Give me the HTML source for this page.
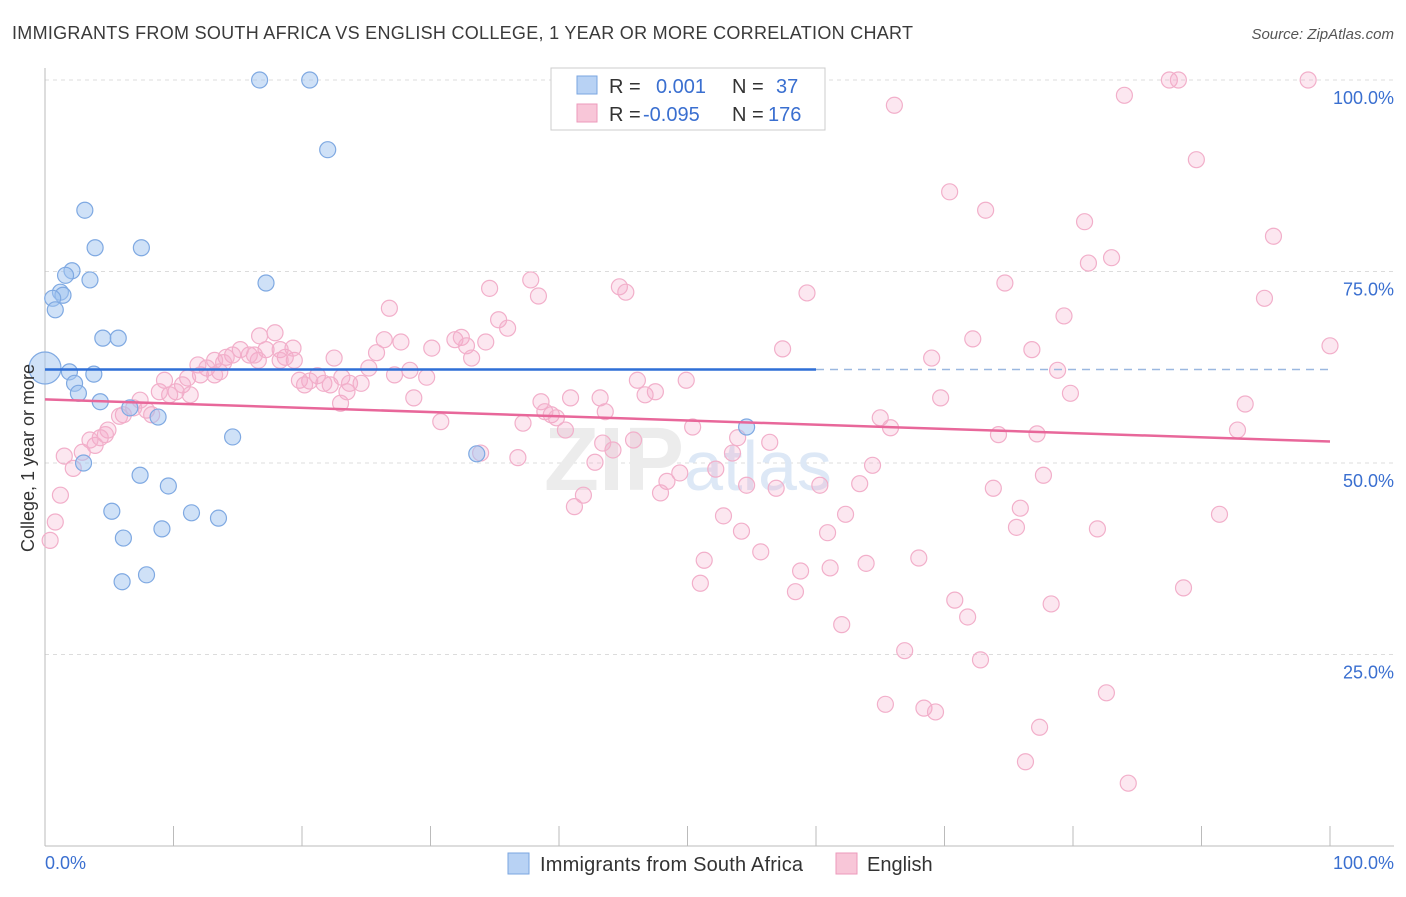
<!DOCTYPE html>
<html><head><meta charset="utf-8">
<style>
body{margin:0;background:#fff;font-family:"Liberation Sans",sans-serif;}
svg text{font-family:"Liberation Sans",sans-serif;}
</style></head>
<body>
<svg id="chart" width="1406" height="892" viewBox="0 0 1406 892" xmlns="http://www.w3.org/2000/svg">
<text x="12" y="39" font-size="18" fill="#3a3a3a" textLength="901">IMMIGRANTS FROM SOUTH AFRICA VS ENGLISH COLLEGE, 1 YEAR OR MORE CORRELATION CHART</text>
<text x="1394" y="39" font-size="15" fill="#555" font-style="italic" text-anchor="end">Source: ZipAtlas.com</text>
<g id="grid"></g>
<text x="688" y="490" font-size="90" fill="#ececec" text-anchor="middle" font-family="Liberation Serif" font-weight="bold">ZIP<tspan fill="#dde8f6" font-family="Liberation Sans" font-weight="normal" font-size="70">atlas</tspan></text>
<g id="pts"></g>
<g id="lines"></g>
<text transform="translate(34,458) rotate(-90)" font-size="18" fill="#333" text-anchor="middle">College, 1 year or more</text>
<text x="45" y="869" font-size="18" fill="#3a6fd0">0.0%</text>
<text x="1394" y="869" font-size="18" fill="#3a6fd0" text-anchor="end">100.0%</text>
<g>
<rect x="551" y="68" width="274" height="62" fill="#fff" stroke="#ccc"/>
<rect x="577" y="76" width="20" height="18" fill="#b8d2f4" stroke="#7aa6e0"/>
<rect x="577" y="104" width="20" height="18" fill="#f8c6d8" stroke="#ec9abb"/>
<text x="609" y="93" font-size="20" fill="#333">R =</text>
<text x="656" y="93" font-size="20" fill="#3a6fd0">0.001</text>
<text x="732" y="93" font-size="20" fill="#333">N =</text>
<text x="776" y="93" font-size="20" fill="#3a6fd0">37</text>
<text x="609" y="121" font-size="20" fill="#333">R =</text>
<text x="643" y="121" font-size="20" fill="#3a6fd0">-0.095</text>
<text x="732" y="121" font-size="20" fill="#333">N =</text>
<text x="768" y="121" font-size="20" fill="#3a6fd0">176</text>
</g>
<g>
<rect x="508" y="853" width="21" height="21" fill="#b8d2f4" stroke="#7aa6e0"/>
<text x="540" y="871" font-size="20" fill="#333" textLength="263">Immigrants from South Africa</text>
<rect x="836" y="853" width="21" height="21" fill="#f8c6d8" stroke="#ec9abb"/>
<text x="867" y="871" font-size="20" fill="#333">English</text>
</g>
</svg>
<script>
const blueX=[16.7,20.6,22.0,3.1,3.9,7.5,2.1,1.6,3.5,17.2,1.2,1.4,0.6,0.8,4.5,5.7,0,1.9,3.8,2.3,2.6,4.3,6.6,8.8,14.6,33.6,3.0,7.4,9.6,5.2,11.4,13.5,6.1,9.1,6.0,7.9,54.6];
const blueY=[100,100,90.9,83.0,78.1,78.1,75.1,74.5,73.9,73.5,72.3,71.9,71.5,70.0,66.3,66.3,62.4,61.9,61.6,60.4,59.1,58.0,57.2,56.0,53.4,51.2,50.0,48.4,47.0,43.7,43.5,42.8,40.2,41.4,34.5,35.4,54.7];
const pinkX=[87.5,88.2,98.3,84.0,66.1,89.6,70.4,73.2,80.9,95.6,83.0,81.2,74.7,59.3,34.6,37.8,38.4,44.7,45.2,94.9,79.3,26.8,72.2,100,57.4,76.8,69.0,78.8,79.8,69.7,93.4,77.2,74.2,92.8,65.0,65.8,50.4,53.9,56.4,53.5,64.4,52.2,49.4,48.4,54.6,56.9,63.4,60.3,47.9,77.7,73.8,75.9,91.4,75.6,81.9,62.3,52.8,54.2,60.9,55.7,51.3,63.9,68.0,61.1,58.8,51.0,58.4,70.8,78.3,71.8,62.0,66.9,72.8,82.6,65.4,68.4,69.3,77.4,76.3,84.3,88.6,
46.1,49.9,46.7,47.5,43.2,40.9,38.6,37.2,39.4,38.9,39.8,40.5,43.6,45.8,44.2,42.8,43.4,41.9,41.2,36.8,33.9,30.8,28.7,29.7,28.4,30.1,31.9,32.4,32.8,33.2,34.3,35.3,36.0,26.4,27.7,25.8,25.2,22.5,23.1,24.6,23.7,21.2,21.7,23.0,23.5,20.6,19.8,20.2,19.4,18.7,19.3,17.9,16.7,17.2,16.6,15.9,15.2,14.6,14.1,13.9,13.2,13.6,12.6,11.9,12.1,11.1,10.7,10.2,9.7,8.9,7.9,8.3,7.4,6.9,6.1,5.8,4.9,4.3,4.7,3.9,3.5,2.9,2.2,1.5,1.2,0.8,0.4,9.3,11.3,13.2,16.3,18.3,22.2,18.3,27.2];
const pinkY=[100,100,100,98.0,96.7,89.6,85.4,83.0,81.5,79.6,76.8,76.1,73.5,72.2,72.8,73.9,71.8,73.0,72.3,71.5,69.2,70.2,66.2,65.3,64.9,64.8,63.7,62.1,59.1,58.5,57.7,53.8,53.7,54.3,55.9,54.6,54.7,53.3,52.7,51.3,49.7,49.2,48.7,47.6,47.1,46.7,47.3,47.1,46.1,48.4,46.7,44.1,43.3,41.6,41.4,43.3,43.1,41.1,40.9,38.4,37.3,36.9,37.6,36.3,35.9,34.3,33.2,32.1,31.6,29.9,28.9,25.5,24.3,20.0,18.5,18.0,17.5,15.5,11.0,8.2,33.7,
60.8,60.8,58.9,59.3,58.5,58.5,58.0,55.2,56.3,56.7,55.9,54.3,56.7,53.0,51.7,50.1,52.6,45.8,44.3,50.7,51.3,55.4,58.5,61.2,62.1,65.0,66.1,66.4,65.3,63.7,65.8,68.7,67.6,66.1,65.8,64.4,62.4,63.7,61.2,60.4,60.4,61.4,60.4,57.8,59.3,60.7,60.8,60.2,63.4,63.8,65.0,67.0,66.6,64.8,63.4,64.1,64.8,64.1,63.8,63.1,63.4,61.9,62.4,62.8,61.5,61.1,60.2,59.3,58.9,59.3,56.9,56.3,58.2,57.2,56.3,56.1,54.3,53.3,53.7,52.3,53.0,51.4,49.3,50.9,45.8,42.3,39.9,60.8,58.9,61.5,64.1,64.8,60.2,63.4,61.5];
const yTicks=[25,50,75,100];
const yTickLabels=["25.0%","50.0%","75.0%","100.0%"];
const xTicks=[0,10,20,30,40,50,60,70,80,90,100];
const blueTrend=[62.2,62.2];const blueSolidEnd=60;
const pinkTrend=[58.3,52.8];

const X0=45,X1=1330,Y0=846,Y100=80;
const sx=v=>X0+(X1-X0)*v/100;
const sy=v=>Y0-(Y0-Y100)*v/100;
const NS="http://www.w3.org/2000/svg";
function mk(tag,attrs,parent){const e=document.createElementNS(NS,tag);for(const k in attrs)e.setAttribute(k,attrs[k]);parent.appendChild(e);return e;}
const grid=document.getElementById('grid');
yTicks.forEach((t,i)=>{
  const l=mk('line',{x1:X0,x2:1394,y1:sy(t),y2:sy(t),stroke:'#dcdcdc','stroke-dasharray':'4,4'},grid);
  
  
  const tx=mk('text',{x:1394,y:sy(t)+24,'font-size':18,fill:'#3a6fd0','text-anchor':'end'},grid);
  tx.textContent=yTickLabels[i];
  
  
});
const ax=mk('line',{x1:X0,x2:X0,y1:68,y2:Y0,stroke:'#bbb'},grid);


const bx=mk('line',{x1:X0,x2:1394,y1:Y0,y2:Y0,stroke:'#bbb'},grid);


xTicks.forEach(t=>{
  const l=mk('line',{x1:sx(t),x2:sx(t),y1:826,y2:Y0,stroke:'#bbb'},grid);
  
  
});
const pts=document.getElementById('pts');
pinkX.forEach((x,i)=>{
  const c=mk('circle',{cx:sx(x),cy:sy(pinkY[i]),r:8,fill:'rgba(244,170,200,0.28)',stroke:'#f2afca','stroke-width':1.2},pts);
  
  
});
blueX.forEach((x,i)=>{
  const c=mk('circle',{cx:sx(x),cy:sy(blueY[i]),r:(x===0?16:8),fill:'rgba(160,196,240,0.5)',stroke:'#7fa9e2','stroke-width':1.2},pts);
  
  
});
const lines=document.getElementById('lines');
const bv=v=>blueTrend[0]+(blueTrend[1]-blueTrend[0])*v/100;
let l1=mk('line',{x1:sx(0),y1:sy(bv(0)),x2:sx(blueSolidEnd),y2:sy(bv(blueSolidEnd)),stroke:'#2f6fd6','stroke-width':2.5},lines);


let l2=mk('line',{x1:sx(blueSolidEnd),y1:sy(bv(blueSolidEnd)),x2:sx(100),y2:sy(bv(100)),stroke:'#9bb8e0','stroke-width':1.5,'stroke-dasharray':'8,6'},lines);


let l3=mk('line',{x1:sx(0),y1:sy(pinkTrend[0]),x2:sx(100),y2:sy(pinkTrend[1]),stroke:'#e8679a','stroke-width':2.5},lines);


</script>
</body></html>
